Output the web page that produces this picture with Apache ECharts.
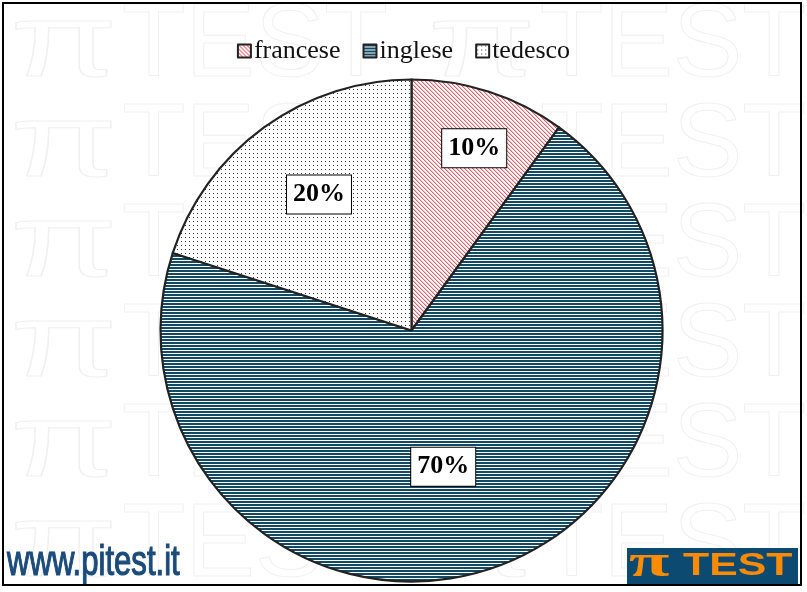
<!DOCTYPE html>
<html><head><meta charset="utf-8">
<script src="https://cdn.jsdelivr.net/npm/echarts@6/dist/echarts.min.js"></script>
<style>html,body{margin:0;padding:0;background:#fff}#c{width:807px;height:592px}</style>
</head><body><div id="c"></div>
<script>
const categories = ['francese', 'inglese', 'tedesco'];
const values = [10, 70, 20];
const labelOffsets = [[23, -60], [-8, 14], [-17, -32]];

function pat(w, h, draw) {
  const c = document.createElement('canvas');
  c.width = w; c.height = h;
  const g = c.getContext('2d');
  g.fillStyle = '#ffffff'; g.fillRect(0, 0, w, h);
  draw(g);
  return c;
}
const patterns = [
  pat(4, 4, g => {
    for (let i = 0; i < 4; i++) {
      g.fillStyle = '#e0606a'; g.fillRect(i, i, 1, 1);
      g.fillStyle = '#f4c0c3'; g.fillRect((i + 1) % 4, i, 1, 1);
    }
  }),
  pat(1, 3, g => { g.fillStyle = '#134a63'; g.fillRect(0, 0, 1, 2); }),
  pat(4, 4, g => { g.fillStyle = '#3a3a3a'; g.fillRect(1, 1, 1, 1); })
];

const wm = [];
for (let r = 0; r < 6; r++) {
  for (const gx of [10, 428]) {
    wm.push({ type: 'text', x: gx, y: 47 + r * 100, z: 0, scaleX: 1.5, silent: true,
      style: { text: 'π', font: '104px "Liberation Sans"', fill: 'rgba(0,0,0,0)', stroke: '#f0f0f0', lineWidth: 1, verticalAlign: 'middle' } });
    wm.push({ type: 'text', x: gx + 112, y: 47 + r * 100, z: 0, silent: true,
      style: { text: 'TEST', font: '104px "Liberation Sans"', fill: 'rgba(0,0,0,0)', stroke: '#f0f0f0', lineWidth: 1, verticalAlign: 'middle' } });
  }
}

const chart = echarts.init(document.getElementById('c'));
chart.setOption({
  animation: false,
  backgroundColor: '#ffffff',
  legend: {
    data: categories, left: 'center', top: 33, icon: 'rect',
    itemWidth: 13, itemHeight: 13, itemGap: 22,
    textStyle: { fontFamily: 'Liberation Serif', fontSize: 26, color: '#111', padding: [0, 0, 0, -2] }
  },
  graphic: { elements: wm.concat([
    { type: 'text', x: 7, y: 563, z: 10, scaleX: 0.74,
      style: { text: 'www.pitest.it', font: '42px "Liberation Sans"', fill: '#1a4b7a', stroke: '#1a4b7a', lineWidth: 1.2, verticalAlign: 'middle' } },
    { type: 'rect', z: 10, shape: { x: 627, y: 548, width: 171, height: 36 }, style: { fill: '#0c4a72' } },
    { type: 'text', x: 629, y: 564, z: 11, scaleX: 1.6,
      style: { text: 'π', font: 'bold 46px "Liberation Serif"', fill: '#ff8c00', verticalAlign: 'middle' } },
    { type: 'text', x: 683, y: 566, z: 11, scaleX: 1.38,
      style: { text: 'TEST', font: 'bold 31px "Liberation Sans"', fill: '#ff8a00', verticalAlign: 'middle' } },
    { type: 'rect', z: 20, shape: { x: 3, y: 3, width: 798, height: 582 }, style: { fill: 'none', stroke: '#000', lineWidth: 2 } }
  ]) },
  series: [{
    type: 'pie', center: [411.5, 330.5], radius: 251, startAngle: 90, clockwise: true,
    z: 5,
    itemStyle: { borderColor: '#222', borderWidth: 2.2 },
    emphasis: { disabled: true },
    labelLine: { show: false },
    label: {
      show: true, position: 'inside', rotate: 0, formatter: '{c}%',
      fontFamily: 'Liberation Serif', fontWeight: 'bold', fontSize: 26, color: '#000',
      backgroundColor: '#fff', borderColor: '#000', borderWidth: 1, padding: [7, 6, 5, 6]
    },
    data: categories.map((n, i) => ({
      name: n, value: values[i],
      itemStyle: { color: { image: patterns[i], repeat: 'repeat' } },
      label: { offset: labelOffsets[i] }
    }))
  }]
});
</script></body></html>
